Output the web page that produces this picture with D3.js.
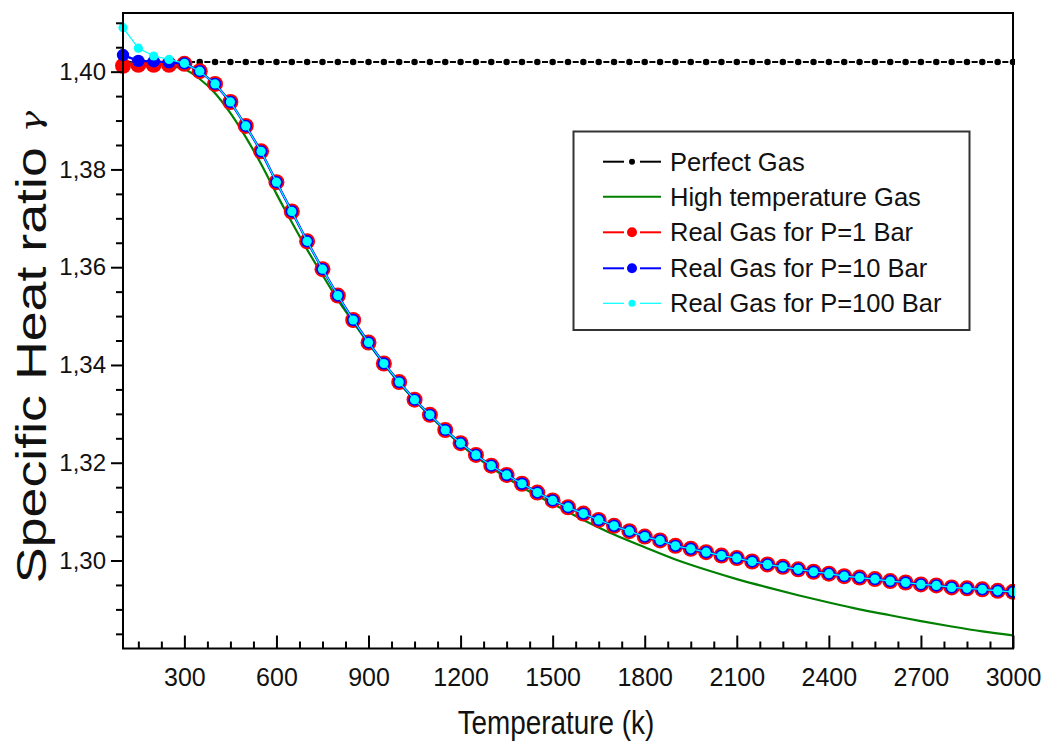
<!DOCTYPE html>
<html><head><meta charset="utf-8">
<script src="https://cdn.jsdelivr.net/npm/d3@7/dist/d3.min.js"></script>
<style>
body{margin:0;background:#fff;}
svg{display:block;font-family:"Liberation Sans",Arial,sans-serif;}
</style>
</head><body>
<svg id="chart" width="1048" height="742"></svg>
<script>
// ---------- data ----------
const temperatures = [100,150,200,250,300,350,400,450,500,550,600,650,700,750,800,850,900,950,1000,1050,
  1100,1150,1200,1250,1300,1350,1400,1450,1500,1550,1600,1650,1700,1750,1800,1850,1900,1950,2000,2050,
  2100,2150,2200,2250,2300,2350,2400,2450,2500,2550,2600,2650,2700,2750,2800,2850,2900,2950,3000];

const perfectGas = [1.402,1.402,1.402,1.402,1.402,1.402,1.402,1.402,1.402,1.402,1.402,1.402,1.402,1.402,1.402,
  1.402,1.402,1.402,1.402,1.402,1.402,1.402,1.402,1.402,1.402,1.402,1.402,1.402,1.402,1.402,1.402,1.402,1.402,
  1.402,1.402,1.402,1.402,1.402,1.402,1.402,1.402,1.402,1.402,1.402,1.402,1.402,1.402,1.402,1.402,1.402,1.402,
  1.402,1.402,1.402,1.402,1.402,1.402,1.402,1.402];

const realGas1Bar = [1.4012,1.4014,1.4014,1.4014,1.4016,1.4001,1.3975,1.3938,1.3889,1.3837,1.3774,1.3714,1.3653,
  1.3596,1.3542,1.3492,1.3446,1.3403,1.3365,1.3329,1.3298,1.3267,1.3240,1.3216,1.3194,1.3175,1.3157,1.3139,
  1.3123,1.3109,1.3096,1.3083,1.3071,1.3060,1.3049,1.3041,1.3030,1.3024,1.3017,1.3010,1.3005,1.2998,1.2992,
  1.2987,1.2982,1.2977,1.2973,1.2968,1.2965,1.2962,1.2958,1.2955,1.2951,1.2949,1.2945,1.2943,1.2941,1.2938,1.2936];

const realGas10Bar = [1.4034,1.4022,1.4021,1.4019,1.4017,1.4001,1.3975,1.3938,1.3889,1.3837,1.3774,1.3714,1.3653,
  1.3596,1.3542,1.3492,1.3446,1.3403,1.3365,1.3329,1.3298,1.3267,1.3240,1.3216,1.3194,1.3175,1.3157,1.3139,
  1.3123,1.3109,1.3096,1.3083,1.3071,1.3060,1.3049,1.3041,1.3030,1.3024,1.3017,1.3010,1.3005,1.2998,1.2992,
  1.2987,1.2982,1.2977,1.2973,1.2968,1.2965,1.2962,1.2958,1.2955,1.2951,1.2949,1.2945,1.2943,1.2941,1.2938,1.2936];

const realGas100Bar = [1.4090,1.4048,1.4032,1.4025,1.4017,1.4001,1.3975,1.3938,1.3889,1.3837,1.3774,1.3714,1.3653,
  1.3596,1.3542,1.3492,1.3446,1.3403,1.3365,1.3329,1.3298,1.3267,1.3240,1.3216,1.3194,1.3175,1.3157,1.3139,
  1.3123,1.3109,1.3096,1.3083,1.3071,1.3060,1.3049,1.3041,1.3030,1.3024,1.3017,1.3010,1.3005,1.2998,1.2992,
  1.2987,1.2982,1.2977,1.2973,1.2968,1.2965,1.2962,1.2958,1.2955,1.2951,1.2949,1.2945,1.2943,1.2941,1.2938,1.2936];

const highTempT = [100,200,300,350,400,450,500,550,600,650,700,750,800,850,900,1000,1100,1200,1300,1400,1500,
  1600,1700,1800,1900,2000,2100,2200,2300,2400,2500,2600,2700,2800,2900,3000];
const highTempGas = [1.4018,1.4016,1.4005,1.3985,1.3956,1.3915,1.3866,1.3811,1.3750,1.3692,1.3636,1.3584,1.3533,
  1.3488,1.3444,1.3363,1.3296,1.3237,1.3190,1.3150,1.3116,1.3083,1.3053,1.3027,1.3002,1.2981,1.2962,1.2945,
  1.2929,1.2914,1.2900,1.2888,1.2876,1.2865,1.2855,1.2847];

const xMajorTicks = [300,600,900,1200,1500,1800,2100,2400,2700,3000];
const xMinorTicks = [150,225,375,450,525,675,750,825,975,1050,1125,1275,1350,1425,1575,1650,1725,1875,1950,2025,
  2175,2250,2325,2475,2550,2625,2775,2850,2925];
const yMajorTicks = [1.30,1.32,1.34,1.36,1.38,1.40];
const yMinorTicks = [1.285,1.29,1.295,1.305,1.31,1.315,1.325,1.33,1.335,1.345,1.35,1.355,1.365,1.37,1.375,
  1.385,1.39,1.395,1.405,1.41];

const legendLabels = ["Perfect Gas","High temperature Gas","Real Gas for P=1 Bar","Real Gas for P=10 Bar","Real Gas for P=100 Bar"];

// ---------- chart ----------
const svg = d3.select("#chart");
const L = 123, R = 1013, T = 13, B = 648.5;
const x = d3.scaleLinear().domain([100, 3000]).range([L, R]);
const y = d3.scaleLinear().domain([1.282, 1.412]).range([B, T]);

svg.append("clipPath").attr("id","clip").append("rect")
  .attr("x", L-10).attr("y", T-10).attr("width", R-L+12).attr("height", B-T+10);
const plot = svg.append("g").attr("clip-path","url(#clip)");

const line = (xs, ys) => d3.line().x((d,i)=>x(xs[i])).y((d,i)=>y(ys[i]))(ys);

function series(vals, color, lw, r, gap) {
  const g = plot.append("g");
  g.append("path").attr("d", line(temperatures, vals)).attr("fill","none")
    .attr("stroke", color).attr("stroke-width", lw);
  g.selectAll("circle").data(vals).join("circle")
    .attr("cx", (d,i)=>x(temperatures[i])).attr("cy", d=>y(d)).attr("r", r)
    .attr("fill", color)
    .attr("stroke", gap ? "#fff" : "none").attr("stroke-width", gap ? gap : 0);
}

// perfect gas
series(perfectGas, "#000", 2, 4, 1.5);
// high temperature gas
plot.append("path")
  .attr("d", d3.line().curve(d3.curveMonotoneX).x((d,i)=>x(highTempT[i])).y(d=>y(d))(highTempGas))
  .attr("fill","none").attr("stroke","#008000").attr("stroke-width",2.2);
// real gases
series(realGas1Bar, "#ff0000", 1.5, 8, 0);
series(realGas10Bar, "#0000ff", 2.4, 6.2, 0);
series(realGas100Bar, "#00ffff", 1.2, 4.6, 0);

// ---------- axes ----------
const fmtY = d => d3.format(".2f")(d).replace(".", ",");
const gx = svg.append("g").attr("transform", `translate(0,${B})`);
gx.call(d3.axisBottom(x).tickValues(xMajorTicks).tickSize(-13).tickPadding(20).tickFormat(d3.format("d")));
const gxm = svg.append("g").attr("transform", `translate(0,${B})`);
gxm.call(d3.axisBottom(x).tickValues(xMinorTicks).tickSize(-7).tickFormat(""));
const gy = svg.append("g").attr("transform", `translate(${L},0)`);
gy.call(d3.axisLeft(y).tickValues(yMajorTicks).tickSize(12).tickPadding(5).tickFormat(fmtY));
const gym = svg.append("g").attr("transform", `translate(${L},0)`);
gym.call(d3.axisLeft(y).tickValues(yMinorTicks).tickSize(7).tickFormat(""));
[gx,gxm,gy,gym].forEach(g => {
  g.selectAll(".domain").remove();
  g.selectAll(".tick line").attr("stroke","#000").attr("stroke-width",2);
  g.selectAll("text").attr("font-family","'Liberation Sans',Arial,sans-serif").attr("fill","#111");
});
gx.selectAll("text").attr("font-size", 25);
gy.selectAll("text").attr("font-size", 24);

// frame
svg.append("rect").attr("x", L).attr("y", T).attr("width", R-L).attr("height", B-T)
  .attr("fill","none").attr("stroke","#000").attr("stroke-width",2);

// axis titles
svg.append("text").attr("transform", "translate(556,734) scale(0.82,1)").attr("text-anchor","middle")
  .attr("font-size", 34).attr("fill","#111").text("Temperature (k)");
const yt = svg.append("text").attr("transform", "translate(46,347) rotate(-90) scale(1.28,1)")
  .attr("text-anchor","middle").attr("font-size", 42).attr("fill","#111");
yt.append("tspan").text("Specific Heat ratio ");
yt.append("tspan").attr("font-family","'DejaVu Serif',serif").attr("font-style","italic")
  .attr("font-size", 28).attr("dy", -5).text("γ");

// ---------- legend ----------
const lg = svg.append("g");
lg.append("rect").attr("x", 573.5).attr("y", 131.5).attr("width", 396).attr("height", 198.5)
  .attr("fill","#fff").attr("stroke","#333").attr("stroke-width",2);
const legendStyles = [
  {color:"#000", r:3, lw:2, marker:true},
  {color:"#008000", r:0, lw:2, marker:false},
  {color:"#ff0000", r:5, lw:2, marker:true},
  {color:"#0000ff", r:5, lw:2, marker:true},
  {color:"#00ffff", r:3.5, lw:1.2, marker:true}
];
const rowY = [161.7, 196.7, 232.3, 268.3, 303.3];
legendLabels.forEach((lab, i) => {
  const s = legendStyles[i], cy = rowY[i];
  if (s.marker) {
    lg.append("line").attr("x1",603).attr("x2",624).attr("y1",cy).attr("y2",cy).attr("stroke",s.color).attr("stroke-width",s.lw);
    lg.append("line").attr("x1",640).attr("x2",661).attr("y1",cy).attr("y2",cy).attr("stroke",s.color).attr("stroke-width",s.lw);
    lg.append("circle").attr("cx",632).attr("cy",cy).attr("r",s.r).attr("fill",s.color);
  } else {
    lg.append("line").attr("x1",603).attr("x2",661).attr("y1",cy).attr("y2",cy).attr("stroke",s.color).attr("stroke-width",s.lw);
  }
  lg.append("text").attr("x", 670).attr("y", cy + 9).attr("font-size", 25.5).attr("fill","#111").text(lab);
});
</script>
</body></html>
